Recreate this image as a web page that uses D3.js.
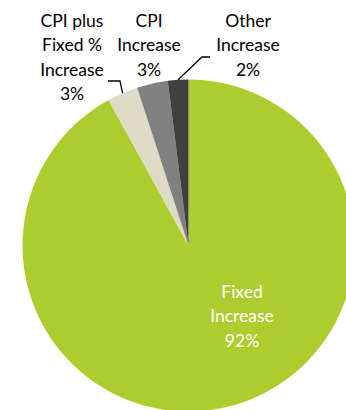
<!DOCTYPE html>
<html>
<head>
<meta charset="utf-8">
<script src="https://cdn.jsdelivr.net/npm/d3@7"></script>
<style>
  html, body { margin: 0; padding: 0; background: #fff; }
  svg { display: block; }
  text { font-family: Lato, "Open Sans", sans-serif; }
</style>
</head>
<body>
<svg id="chart" width="346" height="410"></svg>
<script>
// Share of lease increase types
const categories = ["Fixed Increase", "CPI plus Fixed % Increase", "CPI Increase", "Other Increase"];
const values = [92, 3, 3, 2];
const labelLines = [
  ["Fixed", "Increase"],
  ["CPI plus", "Fixed %", "Increase"],
  ["CPI", "Increase"],
  ["Other", "Increase"]
];
const colors = ["#adcc2d", "#dddac6", "#808080", "#404040"];

const width = 346, height = 410;
const cx = 188.5, cy = 245.5, radius = 166;
const fontSize = 17.5, lineGap = 24.3;

// label anchor (centre x, first baseline y) and leader elbow per slice
const labelLayout = [
  { x: 242, y: 298, color: "#fff", inside: true },
  { x: 72, y: 27, color: "#000", elbow: [[108, 81], [120, 81]] },
  { x: 149, y: 27, color: "#000" },
  { x: 248, y: 27, color: "#000", elbow: [[210, 57], [202, 57]] }
];

const svg = d3.select("#chart");
const g = svg.append("g").attr("transform", `translate(${cx},${cy})`);

const pie = d3.pie().sort(null).value(d => d.value);
const data = pie(categories.map((c, i) => ({ name: c, value: values[i], i })));
const arc = d3.arc().innerRadius(0).outerRadius(radius);

g.selectAll("path.slice")
  .data(data)
  .join("path")
  .attr("class", "slice")
  .attr("d", arc)
  .attr("fill", d => colors[d.data.i]);

// leader lines from elbow to the middle of the slice's outer edge
data.forEach(d => {
  const lay = labelLayout[d.data.i];
  if (!lay.elbow) return;
  const mid = (d.startAngle + d.endAngle) / 2;
  const px = cx + radius * Math.sin(mid);
  const py = cy - radius * Math.cos(mid);
  const pts = lay.elbow.concat([[px, py]]);
  svg.append("path")
    .attr("d", d3.line()(pts))
    .attr("fill", "none")
    .attr("stroke", "#000")
    .attr("stroke-width", 1.3);
});

// slice labels with rounded percentages
data.forEach(d => {
  const i = d.data.i;
  const lay = labelLayout[i];
  const lines = labelLines[i].concat([d3.format(".0f")(values[i]) + "%"]);
  const t = svg.append("text")
    .attr("text-anchor", "middle")
    .attr("fill", lay.color)
    .attr("font-size", fontSize);
  lines.forEach((ln, k) => {
    t.append("tspan")
      .attr("x", lay.x)
      .attr("y", lay.y + k * lineGap)
      .text(ln);
  });
});
</script>
</body>
</html>
